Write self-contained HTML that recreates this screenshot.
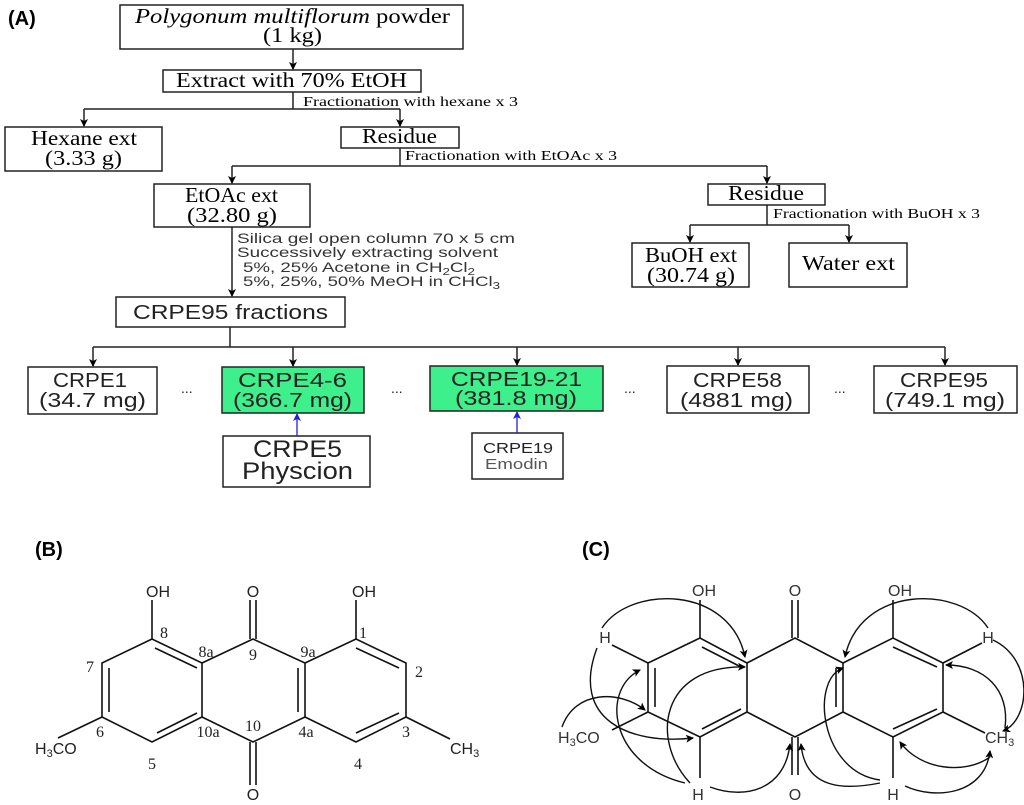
<!DOCTYPE html>
<html><head><meta charset="utf-8"><style>
html,body{margin:0;padding:0;background:#fff}
svg{display:block}
.s{font-family:"Liberation Serif",serif}
.a{font-family:"Liberation Sans",sans-serif}
</style></head><body>
<svg width="1024" height="805" viewBox="0 0 1024 805" xmlns="http://www.w3.org/2000/svg">
<defs>
<marker id="ar" markerWidth="8" markerHeight="8" refX="7" refY="4" orient="auto" markerUnits="userSpaceOnUse"><path d="M0,0 L8,4 L0,8 L2,4 Z" fill="#000"/></marker>
<marker id="ab" markerWidth="8" markerHeight="8" refX="7" refY="4" orient="auto" markerUnits="userSpaceOnUse"><path d="M0,0 L8,4 L0,8 L2,4 Z" fill="#2020e0"/></marker>
</defs>
<g fill="none" stroke="#222" stroke-width="1.5">
<rect x="120" y="5" width="343" height="44"/>
<rect x="163" y="70" width="258" height="22"/>
<rect x="5" y="127" width="157" height="44"/>
<rect x="341" y="127" width="118" height="21"/>
<rect x="154" y="184" width="156" height="43"/>
<rect x="708" y="184" width="117" height="21"/>
<rect x="632" y="243" width="117" height="44"/>
<rect x="789" y="243" width="118" height="44"/>
<rect x="116" y="297" width="229" height="30"/>
<rect x="28" y="367" width="129" height="47"/>
<rect x="222" y="367" width="142" height="46" fill="#3ef08c"/>
<rect x="430" y="366" width="173" height="45" fill="#3ef08c"/>
<rect x="667" y="366" width="142" height="47"/>
<rect x="874" y="366" width="143" height="47"/>
<rect x="223" y="436" width="147" height="51"/>
<rect x="472" y="433" width="91" height="46"/>
<path d="M293,49 V69" marker-end="url(#ar)"/>
<path d="M293,92 V109 M84,109 H400"/>
<path d="M84,109 V126" marker-end="url(#ar)"/>
<path d="M400,109 V126" marker-end="url(#ar)"/>
<path d="M400,148 V166 M232,166 H767"/>
<path d="M232,166 V183" marker-end="url(#ar)"/>
<path d="M767,166 V183" marker-end="url(#ar)"/>
<path d="M767,205 V225 M690,225 H849"/>
<path d="M690,225 V242" marker-end="url(#ar)"/>
<path d="M849,225 V242" marker-end="url(#ar)"/>
<path d="M232,227 V296" marker-end="url(#ar)"/>
<path d="M230,327 V347 M93,347 H945"/>
<path d="M93,347 V366" marker-end="url(#ar)"/>
<path d="M293,347 V366" marker-end="url(#ar)"/>
<path d="M517,347 V365" marker-end="url(#ar)"/>
<path d="M738,347 V365" marker-end="url(#ar)"/>
<path d="M945,347 V365" marker-end="url(#ar)"/>
</g>
<g stroke="#2020e0" stroke-width="1.3" fill="none">
<path d="M297,436 V414" marker-end="url(#ab)"/>
<path d="M517,433 V412" marker-end="url(#ab)"/>
</g>
<text x="8" y="25" class="a" font-size="20" font-weight="bold">(A)</text>
<g class="s" font-size="21">
<text x="135" y="23" textLength="315" lengthAdjust="spacingAndGlyphs"><tspan font-style="italic">Polygonum multiflorum</tspan> powder</text>
<text x="263" y="42" textLength="59" lengthAdjust="spacingAndGlyphs">(1 kg)</text>
<text x="176" y="87" textLength="231" lengthAdjust="spacingAndGlyphs">Extract  with 70% EtOH</text>
<text x="31" y="145" textLength="106" lengthAdjust="spacingAndGlyphs">Hexane ext</text>
<text x="45" y="165" textLength="77" lengthAdjust="spacingAndGlyphs">(3.33 g)</text>
<text x="362" y="143" textLength="75" lengthAdjust="spacingAndGlyphs">Residue</text>
<text x="185" y="202" textLength="93" lengthAdjust="spacingAndGlyphs">EtOAc ext</text>
<text x="187" y="222" textLength="90" lengthAdjust="spacingAndGlyphs">(32.80 g)</text>
<text x="728" y="200" textLength="76" lengthAdjust="spacingAndGlyphs">Residue</text>
<text x="645" y="262" textLength="92" lengthAdjust="spacingAndGlyphs">BuOH ext</text>
<text x="647" y="282" textLength="88" lengthAdjust="spacingAndGlyphs">(30.74 g)</text>
<text x="802" y="270" textLength="93" lengthAdjust="spacingAndGlyphs">Water ext</text>
</g>
<g class="s" font-size="14">
<text x="303" y="106" textLength="215" lengthAdjust="spacingAndGlyphs">Fractionation with hexane x 3</text>
<text x="405" y="160" textLength="212" lengthAdjust="spacingAndGlyphs">Fractionation with EtOAc x 3</text>
<text x="773" y="218" textLength="207" lengthAdjust="spacingAndGlyphs">Fractionation with BuOH x 3</text>
</g>
<g class="a" font-size="14" fill="#333">
<text x="237" y="243" textLength="278" lengthAdjust="spacingAndGlyphs">Silica gel open column 70 x 5 cm</text>
<text x="237" y="257" textLength="261" lengthAdjust="spacingAndGlyphs">Successively extracting solvent</text>
<text x="243" y="272" textLength="232" lengthAdjust="spacingAndGlyphs">5%, 25% Acetone in CH<tspan font-size="10" dy="3">2</tspan><tspan dy="-3">Cl</tspan><tspan font-size="10" dy="3">2</tspan></text>
<text x="243" y="286" textLength="257" lengthAdjust="spacingAndGlyphs">5%, 25%, 50% MeOH in CHCl<tspan font-size="10" dy="3">3</tspan></text>
</g>
<g class="a" font-size="20" fill="#222">
<text x="133" y="319" textLength="195" lengthAdjust="spacingAndGlyphs">CRPE95 fractions</text>
<text x="53" y="387" textLength="74" lengthAdjust="spacingAndGlyphs">CRPE1</text><text x="39" y="407" textLength="107" lengthAdjust="spacingAndGlyphs">(34.7 mg)</text>
<text x="238" y="387" textLength="109" lengthAdjust="spacingAndGlyphs">CRPE4-6</text><text x="233" y="407" textLength="119" lengthAdjust="spacingAndGlyphs">(366.7 mg)</text>
<text x="451" y="386" textLength="131" lengthAdjust="spacingAndGlyphs">CRPE19-21</text><text x="455" y="405" textLength="122" lengthAdjust="spacingAndGlyphs">(381.8 mg)</text>
<text x="693" y="387" textLength="89" lengthAdjust="spacingAndGlyphs">CRPE58</text><text x="680" y="407" textLength="113" lengthAdjust="spacingAndGlyphs">(4881 mg)</text>
<text x="900" y="387" textLength="88" lengthAdjust="spacingAndGlyphs">CRPE95</text><text x="885" y="407" textLength="120" lengthAdjust="spacingAndGlyphs">(749.1 mg)</text>
<text x="181" y="393" font-size="14">...</text>
<text x="391" y="393" font-size="14">...</text>
<text x="624" y="393" font-size="14">...</text>
<text x="834" y="393" font-size="14">...</text>
<text x="253" y="457" font-size="24" textLength="89" lengthAdjust="spacingAndGlyphs">CRPE5</text>
<text x="242" y="479" font-size="24" textLength="111" lengthAdjust="spacingAndGlyphs">Physcion</text>
<text x="483" y="453" font-size="15" textLength="70" lengthAdjust="spacingAndGlyphs">CRPE19</text>
<text x="485" y="469" font-size="15" fill="#555" textLength="63" lengthAdjust="spacingAndGlyphs">Emodin</text>
</g>

<text x="35" y="556" class="a" font-size="20" font-weight="bold">(B)</text>
<g stroke="#111" stroke-width="1.6" fill="none">
<path d="M152,639 L102,663 L102,717 L152,742 L202,717 L202,663 Z"/>
<path d="M202,663 L253,639 L305,663 L305,717 L253,742 L202,717"/>
<path d="M305,663 L356,639 L406,663 L406,717 L356,742 L305,717"/>
<path d="M109,668 V712 M155,648 L197,668 M157,733 L197,713 M298,668 V712 M356,648 L399,668 M356,733 L399,713"/>
<path d="M152,639 V600 M356,639 V600 M250,639 V600 M256,639 V600 M250,742 V785 M256,742 V785"/>
<path d="M102,717 L58,738 M406,717 L450,739"/>
</g>
<g class="s" font-size="16" fill="#222" text-anchor="middle">
<text x="158" y="597" class="a">OH</text><text x="253" y="597" class="a">O</text><text x="364" y="597" class="a">OH</text>
<text x="253" y="800" class="a">O</text>
<text x="35" y="754" text-anchor="start" class="a">H<tspan font-size="11" dy="3">3</tspan><tspan dy="-3">CO</tspan></text>
<text x="450" y="754" text-anchor="start" class="a">CH<tspan font-size="11" dy="3">3</tspan></text>
<text x="164" y="638">8</text><text x="206" y="657">8a</text><text x="253" y="660">9</text><text x="308" y="657">9a</text><text x="363" y="638">1</text><text x="419" y="677">2</text>
<text x="90" y="672">7</text><text x="100" y="737">6</text><text x="152" y="769">5</text><text x="208" y="737">10a</text><text x="253" y="731">10</text><text x="306" y="737">4a</text><text x="406" y="737">3</text><text x="358" y="769">4</text>
</g>

<text x="582" y="556" class="a" font-size="20" font-weight="bold">(C)</text>
<g stroke="#111" stroke-width="1.6" fill="none">
<path d="M700,638 L648,663 L648,712 L700,737 L747,712 L747,663 Z"/>
<path d="M747,663 L795,638 L843,663 L843,712 L795,737 L747,712"/>
<path d="M843,663 L893,638 L943,663 L943,712 L893,737 L843,712"/>
<path d="M655,668 V707 M702,647 L741,667 M702,729 L741,709 M836,668 V707 M893,647 L937,667 M893,729 L937,709"/>
<path d="M700,638 V600 M893,638 V600 M792,638 V600 M798,638 V600 M792,737 V775 M798,737 V775"/>
<path d="M648,663 L612,645 M943,663 L982,643 M648,712 L612,730 M943,712 L985,733 M700,737 V778 M893,737 V778"/>
</g>
<g stroke="#111" stroke-width="1.4" fill="none">
<path d="M602,628 C630,585 730,585 745,657" marker-end="url(#ar)"/>
<path d="M988,628 C960,585 860,585 845,657" marker-end="url(#ar)"/>
<path d="M562,727 C575,690 620,690 645,710" marker-end="url(#ar)"/>
<path d="M597,648 C570,720 630,745 693,738" marker-end="url(#ar)"/>
<path d="M685,783 C610,765 600,690 640,670" marker-end="url(#ar)"/>
<path d="M690,783 C650,740 660,665 745,667" marker-end="url(#ar)"/>
<path d="M710,787 C745,800 785,790 790,744" marker-end="url(#ar)"/>
<path d="M880,783 C845,790 805,790 801,744" marker-end="url(#ar)"/>
<path d="M880,780 C820,772 810,680 843,668" marker-end="url(#ar)"/>
<path d="M993,640 C1035,660 1030,720 1003,731" marker-end="url(#ar)"/>
<path d="M1005,728 C1010,690 985,665 946,665" marker-end="url(#ar)"/>
<path d="M905,786 C935,800 985,795 990,751" marker-end="url(#ar)"/>
<path d="M990,757 C965,775 920,770 900,742" marker-end="url(#ar)"/>
</g>
<g class="a" font-size="16" fill="#333" text-anchor="middle">
<text x="704" y="596">OH</text><text x="795" y="596">O</text><text x="900" y="596">OH</text>
<text x="605" y="643">H</text><text x="988" y="643">H</text>
<text x="795" y="800">O</text>
<text x="698" y="800">H</text><text x="893" y="800">H</text>
<text x="558" y="743" text-anchor="start">H<tspan font-size="11" dy="3">3</tspan><tspan dy="-3">CO</tspan></text>
<text x="985" y="743" text-anchor="start">CH<tspan font-size="11" dy="3">3</tspan></text>
</g>
</svg>
</body></html>
